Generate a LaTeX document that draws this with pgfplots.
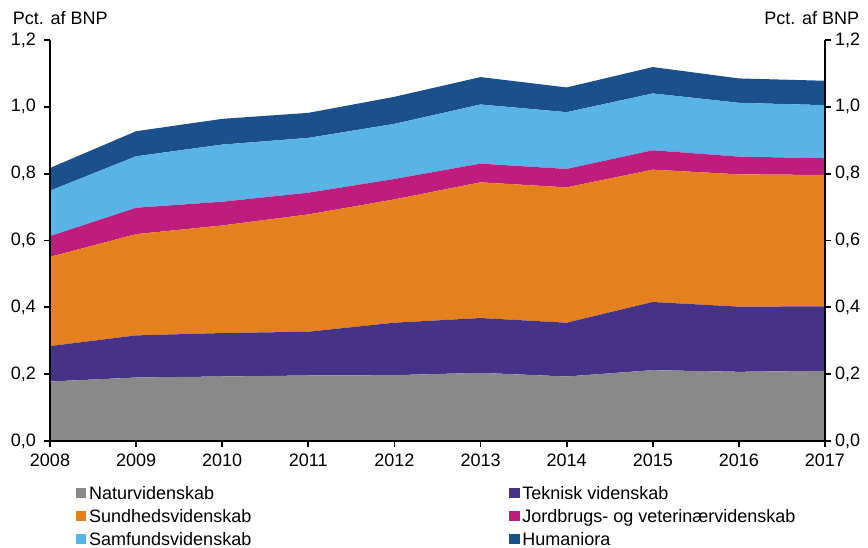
\documentclass[border=0pt]{standalone}
\usepackage{fontspec}
\setmainfont{Liberation Sans}
\usepackage{pgfplots}
\pgfplotsset{compat=1.18}
\definecolor{cgray}{HTML}{898989}
\definecolor{cpurple}{HTML}{463289}
\definecolor{corange}{HTML}{E5801E}
\definecolor{cmagenta}{HTML}{BE1D7E}
\definecolor{clblue}{HTML}{59B3E6}
\definecolor{cdblue}{HTML}{1B508D}
\newcommand{\fs}{\fontsize{18}{21}\selectfont}
\begin{document}
\begin{tikzpicture}
\useasboundingbox (-50pt,-107pt) rectangle (818pt,441pt);
\pgfplotsset{
  common/.style={
    scale only axis, width=775pt, height=401pt,
    at={(0pt,0pt)}, anchor=south west,
    xmin=2008, xmax=2017, ymin=0, ymax=1.2,
    ytick={0,0.2,0.4,0.6,0.8,1.0,1.2},
    tick align=outside,
    major tick length=6.5pt,
    every tick/.style={black, line width=1.8pt},
    axis line style={line width=2pt, -, black},
    tick label style={font=\fs},
    yticklabel style={/pgf/number format/use comma, /pgf/number format/fixed, /pgf/number format/fixed zerofill, /pgf/number format/precision=1, /pgf/number format/assume math mode=true},
    axis on top=true,
  }
}
\begin{axis}[
  axis x line*=bottom, axis y line*=left,
  common,
  stack plots=y,
  xtick={2008,2009,2010,2011,2012,2013,2014,2015,2016,2017},
  xticklabel style={/pgf/number format/1000 sep={}, /pgf/number format/assume math mode=true, /tikz/yshift=-3pt},
  yticklabel style={/tikz/xshift=-4pt},
  legend columns=2,
  legend cell align=left,
  legend style={draw=none, fill=none, inner sep=0pt, outer sep=0pt,
    at={(rel axis cs:0,0)}, anchor=north west, xshift=26pt, yshift=-46pt,
    row sep=10.4pt, font=\fs,
    nodes={inner sep=0pt, outer sep=0pt, text height=12.5pt, text depth=0pt},
    /tikz/every odd column/.append style={column sep=2.7pt}},
  legend image code/.code={\fill[#1] (0pt,-4.75pt) rectangle (10.5pt,4.75pt);},
]
\addplot[fill=cgray, draw=none] coordinates {
(2008,0.178) (2009,0.190) (2010,0.193) (2011,0.196) (2012,0.197)
(2013,0.204) (2014,0.193) (2015,0.212) (2016,0.207) (2017,0.210)} \closedcycle;
\addlegendentry{\makebox[420pt][l]{Naturvidenskab}}
\addplot[fill=cpurple, draw=none] coordinates {
(2008,0.106) (2009,0.126) (2010,0.130) (2011,0.131) (2012,0.157)
(2013,0.164) (2014,0.161) (2015,0.204) (2016,0.195) (2017,0.193)} \closedcycle;
\addlegendentry{Teknisk videnskab}
\addplot[fill=corange, draw=none] coordinates {
(2008,0.267) (2009,0.303) (2010,0.322) (2011,0.351) (2012,0.369)
(2013,0.406) (2014,0.405) (2015,0.396) (2016,0.396) (2017,0.393)} \closedcycle;
\addlegendentry{\makebox[420pt][l]{Sundhedsvidenskab}}
\addplot[fill=cmagenta, draw=none] coordinates {
(2008,0.062) (2009,0.079) (2010,0.071) (2011,0.065) (2012,0.061)
(2013,0.056) (2014,0.055) (2015,0.058) (2016,0.053) (2017,0.050)} \closedcycle;
\addlegendentry{Jordbrugs- og veterinærvidenskab}
\addplot[fill=clblue, draw=none] coordinates {
(2008,0.136) (2009,0.154) (2010,0.171) (2011,0.164) (2012,0.165)
(2013,0.177) (2014,0.170) (2015,0.170) (2016,0.161) (2017,0.159)} \closedcycle;
\addlegendentry{\makebox[420pt][l]{Samfundsvidenskab}}
\addplot[fill=cdblue, draw=none] coordinates {
(2008,0.068) (2009,0.075) (2010,0.077) (2011,0.075) (2012,0.081)
(2013,0.082) (2014,0.074) (2015,0.079) (2016,0.073) (2017,0.073)} \closedcycle;
\addlegendentry{Humaniora}
\end{axis}
\begin{axis}[
  axis y line*=right, axis x line=none,
  common,
]
\addplot[draw=none] coordinates {(2008,0)};
\end{axis}
\node[anchor=base west, inner sep=0pt, font=\fs] at (-37.3pt,416.5pt) {Pct. af BNP};
\node[anchor=base east, inner sep=0pt, font=\fs] at (809.3pt,416.5pt) {Pct. af BNP};
\end{tikzpicture}
\end{document}
